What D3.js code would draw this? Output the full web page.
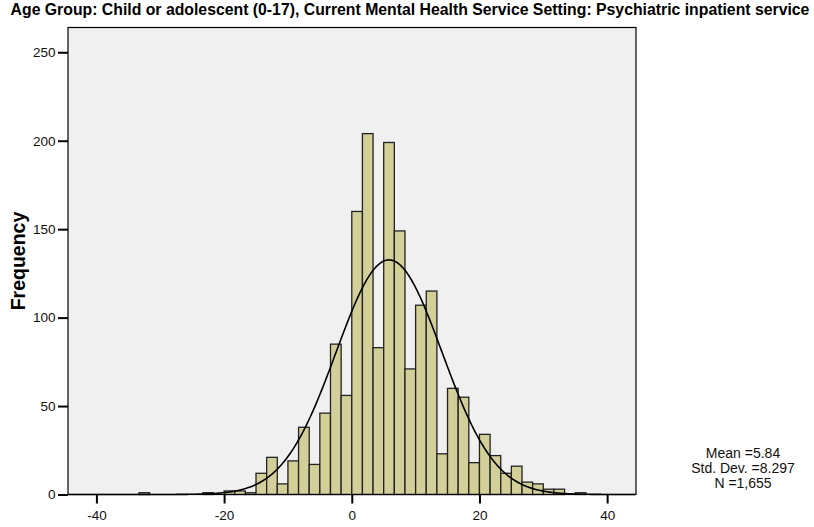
<!DOCTYPE html>
<html>
<head>
<meta charset="utf-8">
<script src="https://cdn.jsdelivr.net/npm/d3@7"></script>
<style>
  html, body { margin: 0; padding: 0; background: #ffffff; }
  svg { display: block; font-family: "Liberation Sans", Arial, sans-serif; }
</style>
</head>
<body>
<svg id="chart" width="814" height="527"></svg>
<script>
// Histogram counts, bins of width 5/3 starting at -33.33
const binWidth = 5 / 3;
const firstEdge = -100 / 3;
const counts = [
  1, 0, 0, 0, 0, 0, 1, 0, 2, 2, 1,
  12, 21, 6, 19, 38, 17, 46, 85, 56,
  160, 204, 83, 199, 149, 71, 107, 115, 23,
  60, 55, 18, 34, 22, 12, 16, 7, 6, 3, 3, 0, 1
];
const xTicks = [-40, -20, 0, 20, 40];
const yTicks = [0, 50, 100, 150, 200, 250];
const stats = { mean: 5.84, sd: 8.297, n: 1655 };
const statLines = ["Mean =5.84", "Std. Dev. =8.297", "N =1,655"];
const title = "Age Group: Child or adolescent (0-17), Current Mental Health Service Setting: Psychiatric inpatient service";

const svg = d3.select("#chart");
const box = { left: 68, right: 636, top: 27.5, bottom: 494.5 };

const x = d3.scaleLinear().domain([-44.45, 44.52]).range([box.left, box.right]);
const y = d3.scaleLinear().domain([0, 264]).range([box.bottom, box.top]);

// plot background
svg.append("rect")
  .attr("x", box.left).attr("y", box.top)
  .attr("width", box.right - box.left).attr("height", box.bottom - box.top)
  .attr("fill", "#f0f0f0");

const bins = counts.map((c, i) => ({
  x0: firstEdge + i * binWidth,
  x1: firstEdge + (i + 1) * binWidth,
  count: c
})).filter(d => d.count > 0);

svg.append("g").selectAll("rect")
  .data(bins)
  .join("rect")
  .attr("x", d => x(d.x0))
  .attr("y", d => y(d.count))
  .attr("width", d => x(d.x1) - x(d.x0))
  .attr("height", d => y(0) - y(d.count))
  .attr("fill", "#d3cf99")
  .attr("stroke", "#222")
  .attr("stroke-width", 1.3);

// fitted normal curve scaled to counts
const peak = stats.n * binWidth / (stats.sd * Math.sqrt(2 * Math.PI));
const curvePts = d3.range(-44.4, 44.5, 0.2).map(v => [v, peak * Math.exp(-0.5 * ((v - stats.mean) / stats.sd) ** 2)]);
svg.append("path")
  .datum(curvePts)
  .attr("fill", "none")
  .attr("stroke", "#000")
  .attr("stroke-width", 1.6)
  .attr("d", d3.line().x(d => x(d[0])).y(d => y(d[1])));

// frame
svg.append("rect")
  .attr("x", box.left).attr("y", box.top)
  .attr("width", box.right - box.left).attr("height", box.bottom - box.top)
  .attr("fill", "none").attr("stroke", "#000").attr("stroke-width", 1.2);

// axes (plain hyphen for negative labels)
const plain = d => String(d);
const xAxis = svg.append("g")
  .attr("transform", `translate(0,${box.bottom})`)
  .call(d3.axisBottom(x).tickValues(xTicks).tickSize(9).tickPadding(7).tickFormat(plain));
const yAxis = svg.append("g")
  .attr("transform", `translate(${box.left},0)`)
  .call(d3.axisLeft(y).tickValues(yTicks).tickSize(10).tickPadding(2.5).tickFormat(plain));
[xAxis, yAxis].forEach(g => {
  g.select(".domain").remove();
  g.selectAll(".tick line").attr("stroke", "#000").attr("stroke-width", 2);
  g.selectAll(".tick text")
    .attr("fill", "#111")
    .style("font-family", "'Liberation Sans', Arial, sans-serif")
    .style("font-size", "13.5px");
});

// title
svg.append("text")
  .attr("x", 410).attr("y", 15)
  .attr("text-anchor", "middle")
  .style("font-weight", "bold")
  .style("font-size", "15.8px")
  .attr("fill", "#000")
  .text(title);

// y axis title
svg.append("text")
  .attr("transform", `translate(25,${(box.top + box.bottom) / 2}) rotate(-90)`)
  .attr("text-anchor", "middle")
  .style("font-weight", "bold")
  .style("font-size", "19.5px")
  .attr("fill", "#000")
  .text("Frequency");

// summary statistics
svg.append("g").selectAll("text")
  .data(statLines)
  .join("text")
  .attr("x", 743)
  .attr("y", (d, i) => 458 + i * 15)
  .attr("text-anchor", "middle")
  .style("font-size", "14px")
  .attr("fill", "#111")
  .text(d => d);
</script>
</body>
</html>
